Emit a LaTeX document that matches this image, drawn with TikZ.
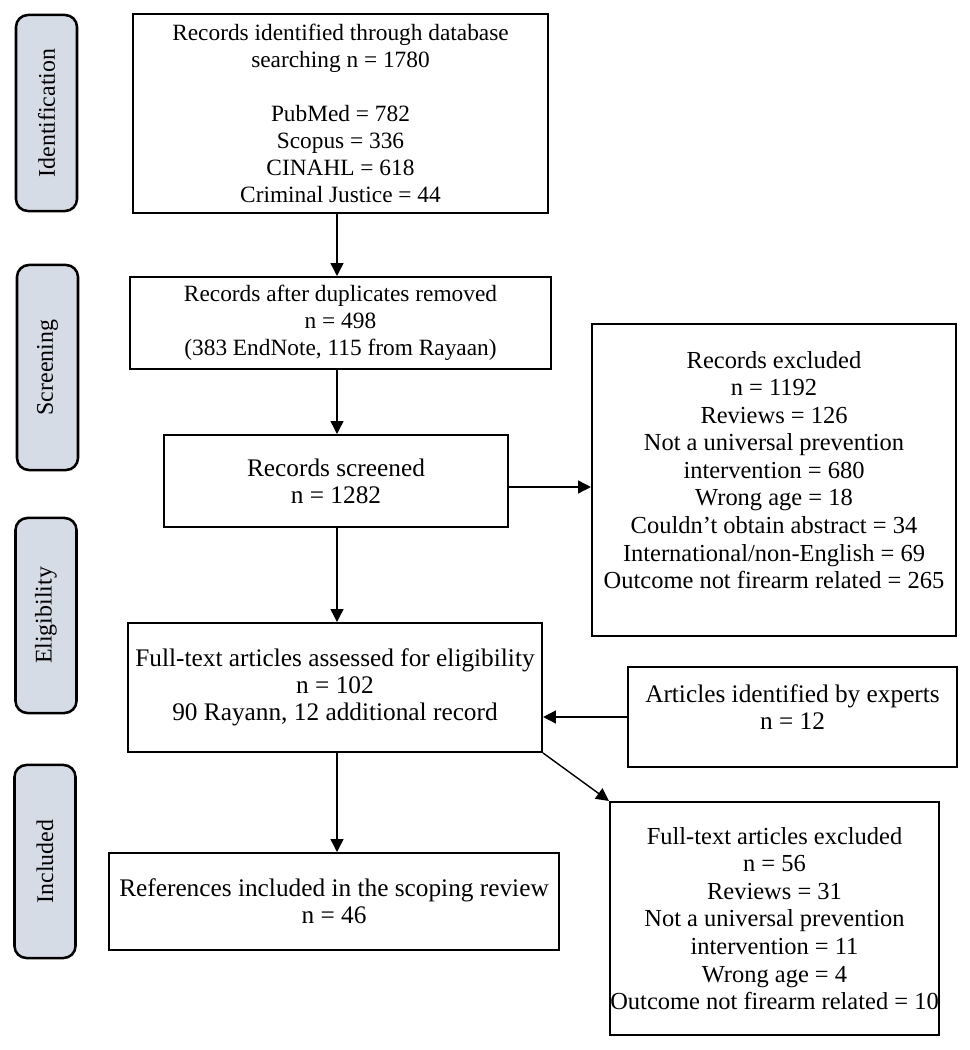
\documentclass[tikz,border=0pt]{standalone}
\usepackage{fontspec}
\setmainfont{Liberation Serif}
\usetikzlibrary{arrows.meta}
\definecolor{stagefill}{RGB}{214,220,229}
\tikzset{
  box/.style={draw, line width=1.4pt, inner sep=0pt, align=center, font=\fontsize{18}{19.4}\selectfont},
  txt/.style={inner sep=0pt, align=center, font=\fontsize{18}{19.4}\selectfont},
  small/.style={font=\fontsize{16.6}{19.2}\selectfont},
  mid/.style={font=\fontsize{17.4}{19.6}\selectfont},
  stage/.style={draw, line width=1.8pt, fill=stagefill, rounded corners=0.3cm, rotate=90, inner sep=0pt, minimum height=1.525cm, font=\fontsize{17}{19}\selectfont},
  arr/.style={-{Triangle[length=0.32cm,width=0.32cm]}, line width=1pt}
}
\begin{document}
\begin{tikzpicture}[x=0.025cm, y=-0.025cm]
\useasboundingbox (0,0) rectangle (970,1050);
\foreach \x/\y/\h/\t [count=\i] in {46.5/113/4.9/Identification, 47.5/367.5/5.125/Screening, 46/615.5/4.875/Eligibility, 45/861.5/4.825/Included}
    \node[stage, minimum width=\h cm] (stage\i) at (\x,\y) {\t};
\node[box, small, minimum width=10.375cm, minimum height=4.975cm] (records) at (340.5,113.5) {Records identified through database\\ searching n = 1780\\[19.2pt] PubMed = 782\\ Scopus = 336\\ CINAHL = 618\\ Criminal Justice = 44};
\node[box, small, minimum width=10.525cm, minimum height=2.3cm] (dup) at (340.5,323) {Records after duplicates removed\\ n = 498\\ (383 EndNote, 115 from Rayaan)};
\node[box, minimum width=8.6cm, minimum height=2.3cm] (screened) at (336,481) {Records screened\\ n = 1282};
\node[box, minimum width=9.1cm, minimum height=7.8cm] (excl) at (774,480) {};
\node[txt, mid] (excltext) at (774,470) {Records excluded\\ n = 1192\\ Reviews = 126\\ Not a universal prevention\\ intervention = 680\\ Wrong age = 18\\ Couldn’t obtain abstract = 34\\ International/non-English = 69\\ Outcome not firearm related = 265};
\node[box, minimum width=10.35cm, minimum height=3.225cm] (fulltext) at (335,687.5) {Full-text articles assessed for eligibility\\ n = 102\\ 90 Rayann, 12 additional record};
\node[box, minimum width=8.225cm, minimum height=2.5cm] (experts) at (792.5,717) {};
\node[txt] (expertstext) at (792.5,707) {Articles identified by experts\\ n = 12};
\node[box, minimum width=11.25cm, minimum height=2.425cm] (incl) at (334,901.5) {References included in the scoping review\\ n = 46};
\node[box, mid, minimum width=8.225cm, minimum height=5.825cm] (ftexcl) at (774.5,918.5) {Full-text articles excluded\\ n = 56\\ Reviews = 31\\ Not a universal prevention\\ intervention = 11\\ Wrong age = 4\\ Outcome not firearm related = 10};
\coordinate (axis) at (337,0);
\coordinate (row) at (0,487);
\draw[arr] (records.south -| axis) -- (dup.north -| axis);
\draw[arr] (dup.south -| axis) -- (screened.north -| axis);
\draw[arr] (screened.south -| axis) -- (fulltext.north -| axis);
\draw[arr] (fulltext.south -| axis) -- (incl.north -| axis);
\draw[arr] (screened.east |- row) -- (excl.west |- row);
\draw[arr] (experts.west) -- (fulltext.east |- experts.west);
\draw[arr] (fulltext.south east) -- (ftexcl.north west);
\end{tikzpicture}
\end{document}
